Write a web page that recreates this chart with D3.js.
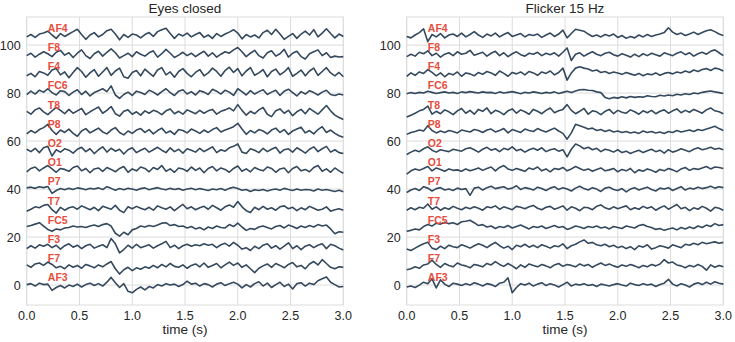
<!DOCTYPE html>
<html>
<head>
<meta charset="utf-8">
<script src="https://cdn.jsdelivr.net/npm/d3@7"></script>
<style>
  body { margin: 0; background: #fff; }
  text { font-family: "Liberation Sans", Arial, sans-serif; }
</style>
</head>
<body>
<svg id="chart" width="735" height="342"></svg>
<script>
// channel order, bottom to top; each trace is drawn at index * spacing
const channels = ["AF3", "F7", "F3", "FC5", "T7", "P7", "O1", "O2", "P8", "T8", "FC6", "F4", "F8", "AF4"];
const spacing = 8;
const duration = 3.0;
const xTicks = [0, 0.5, 1, 1.5, 2, 2.5, 3];
const yTicks = [0, 20, 40, 60, 80, 100];
const titles = ["Eyes closed", "Flicker 15 Hz"];

// samples every 0.04 s (76 per trace)
const eyesClosed = {
  AF4: [-0.6,0.4,-0.8,0.6,1.0,1.8,0.2,-1.2,0.8,-0.4, 0.6,1.6,2.6,0.4,-1.6,0.2,1.2,-0.6,0.4,2.0, 2.6,0.6,-1.8,0.4,-0.8,0.6,0.2,-1.0,0.4,1.2, -0.4,1.6,2.4,3.0,0.8,-1.2,0.6,-0.2,1.0,-0.6, 0.4,1.2,-0.8,0.2,-1.2,0.8,-0.4,0.6,1.4,2.4, 1.0,-1.4,0.4,-0.6,0.2,-1.0,1.2,2.2,0.4,2.6, 0.6,-1.6,-0.4,0.8,-1.2,0.6,1.8,0.2,2.4,-0.6, 1.0,2.8,0.8,-1.0,0.6,-0.4],
  F8: [-0.4,0.6,-1.0,0.2,1.2,0.4,-0.8,1.0,1.8,-0.2, 0.8,-1.2,0.6,2.0,-0.4,-1.6,0.4,1.4,-0.6,1.0, 2.4,0.8,-1.4,-0.4,0.6,-0.8,1.2,0.2,-0.6,0.8, 1.6,-1.0,0.4,2.2,0.6,-1.2,-0.2,1.0,-0.4,0.6, -0.8,0.4,1.4,-0.6,0.8,-1.0,0.2,1.2,0.6,2.0, 3.0,1.2,-0.8,0.6,1.8,-0.4,-1.4,0.8,1.6,-0.6, 0.4,2.2,-1.0,0.6,1.4,-0.8,-1.8,0.4,1.2,2.0, -0.4,0.8,-1.2,-0.6,-1.0,-0.8],
  F4: [-0.8,0.2,-1.2,1.0,0.4,-0.6,1.6,2.2,-0.4,0.8, -1.6,0.6,2.6,1.0,-1.4,0.4,1.8,-1.0,0.8,2.6, -0.6,1.2,2.4,-1.2,-1.8,0.6,1.4,-0.8,2.0,0.4, -1.0,1.6,2.6,-0.4,0.8,-1.4,1.0,2.2,0.2,-1.2, 0.6,1.8,-0.8,0.4,2.4,1.0,-1.0,1.4,2.8,0.6, 2.2,-0.8,1.2,2.6,-0.6,0.4,1.8,-1.2,1.0,2.0, -0.4,0.8,2.6,-1.0,0.2,1.6,-0.8,1.2,2.4,-0.6, 1.0,2.6,0.4,-0.8,0.6,-1.2],
  FC6: [-0.6,0.8,-0.4,1.2,0.4,1.8,0.2,-0.8,1.0,0.6, -1.0,0.4,1.4,-0.6,0.8,-1.2,0.2,1.0,1.8,0.6, 3.0,-0.8,-2.2,-0.6,0.4,-1.0,0.8,0.2,-0.6,1.2, 0.4,-0.8,0.6,1.8,0.2,-1.0,0.8,1.4,-0.4,0.6, -0.8,1.0,0.4,-0.6,1.6,0.8,-0.4,1.2,0.4,-1.0, 1.8,0.6,-0.8,1.0,-0.4,0.6,1.4,-0.6,0.4,1.2, -1.0,0.8,1.6,0.2,-1.2,0.6,-0.4,1.0,0.2,-0.8, 0.4,1.2,-0.6,-1.0,-0.4,-0.8],
  T8: [0.4,-0.8,1.0,1.8,0.2,-1.0,0.6,2.0,0.8,-0.6, 1.2,-0.4,0.6,1.6,-1.0,0.2,1.2,2.2,-0.4,0.8, 2.4,-0.6,-1.6,0.4,1.0,-0.8,0.2,-1.2,0.6,-0.4, 0.8,0.2,-1.0,0.6,1.4,-0.6,0.4,-0.8,1.0,0.2, -0.6,0.8,-0.4,0.6,1.2,-0.8,0.4,1.0,1.8,0.6, 3.2,0.8,-1.2,0.4,-0.6,1.0,2.0,-0.8,-1.8,0.6, 1.4,-0.4,0.8,-1.4,0.2,1.2,-0.6,1.6,0.4,-0.8, 1.0,2.8,0.6,-1.2,-2.2,-3.0],
  P8: [-1.0,0.4,-0.6,0.8,1.6,3.0,0.4,-1.2,0.6,-0.4, 1.0,-0.8,-2.0,0.2,1.2,-0.6,0.4,1.4,-0.2,-1.0, 0.6,1.6,-0.4,-1.4,0.2,-0.8,0.6,1.2,-0.4,0.8, -1.0,0.4,1.4,-0.6,0.2,-1.2,0.8,0.4,-0.6,1.0, 0.2,-0.8,0.6,-0.4,0.8,1.6,-0.2,0.6,1.2,2.0, 3.4,1.0,-1.2,0.4,-0.6,0.8,0.2,-1.0,0.6,1.4, -0.4,0.8,-1.2,0.2,1.0,1.8,-0.6,0.4,-1.0,0.8, 2.0,-0.4,0.6,-0.8,-1.8,-2.4],
  O2: [0.6,-0.4,1.0,-0.8,1.2,1.8,-2.2,0.4,-0.6,0.8, 0.2,-1.0,0.6,1.4,-0.4,0.8,-1.2,0.4,1.6,-0.6, 1.0,-0.2,0.6,-1.4,0.4,1.2,-0.8,0.2,1.0,-0.6, 0.4,1.4,0.2,-0.8,1.2,-0.4,0.6,-1.0,0.8,0.2, -0.6,1.0,-0.4,0.6,1.6,-0.8,0.4,-0.2,1.2,1.8, 2.8,-0.6,-1.2,0.8,0.2,-0.8,1.0,-0.4,0.6,1.4, -1.0,0.4,0.8,-0.6,1.2,0.2,-1.0,0.6,1.6,-0.4, 0.8,1.8,-0.6,0.4,-0.8,-1.2],
  O1: [-0.8,0.6,1.2,-0.4,0.8,1.8,0.4,-1.0,0.6,0.2, -0.6,1.0,1.6,-0.4,0.6,-1.2,0.4,0.8,-0.6,1.0, 0.2,-0.8,0.6,1.4,-1.0,0.4,-0.4,1.2,0.6,-0.8, 1.0,0.2,1.8,-0.6,0.4,-1.0,0.8,0.4,-0.6,1.2, -0.2,0.8,-1.2,0.6,1.4,-0.4,0.8,0.2,-1.0,0.6, 1.6,-0.6,0.4,-0.8,1.0,0.2,-0.4,1.2,0.6,-1.0, 0.4,0.8,-1.2,0.6,1.4,-0.4,0.2,-0.8,1.0,1.8, -0.6,0.4,-1.0,0.8,-0.4,-1.4],
  P7: [0.5,0.8,0.3,1.0,0.6,1.1,-1.8,-0.6,0.2,-0.3, 0.3,-0.2,0.5,0.2,-0.3,0.3,0.0,0.5,-0.2,1.0, 0.3,-0.5,0.2,-0.3,0.3,0.0,-0.5,0.2,0.5,-0.3, 0.2,0.6,0.0,-0.3,0.3,-0.2,0.2,-0.5,0.0,0.3, -0.3,0.2,-0.2,-0.6,0.0,-0.3,0.2,-0.5,0.3,0.8, 0.2,-0.5,-0.2,-1.0,-0.3,-0.6,-0.2,-0.8,-0.3,0.0, -0.5,0.3,-0.2,-0.6,0.0,-0.5,-0.2,-0.3,-0.8,0.0, -0.5,-0.2,-0.6,-1.0,-0.5,-1.1],
  T7: [-1.2,-0.4,0.6,0.2,1.2,1.6,-0.6,-2.0,0.4,-0.8, 0.2,0.6,-0.4,1.0,0.2,-0.6,0.4,-1.0,0.8,0.2, -0.4,1.2,-0.8,-1.8,0.6,-0.2,0.8,0.0,-0.6,0.4, -0.8,1.0,0.2,-0.4,0.6,-1.0,0.4,1.6,-0.2,0.6, -0.6,0.2,0.8,-0.4,1.2,0.2,-0.8,0.6,1.4,0.4, 2.8,0.6,-1.0,-1.8,0.4,-0.6,0.8,-0.4,0.2,-0.8, 0.6,1.0,-0.2,0.4,-1.0,0.2,-0.6,0.8,0.0,-0.8, -0.4,0.6,-1.2,-0.6,-0.2,-0.8],
  FC5: [0.4,0.8,1.4,2.0,0.6,-0.8,-1.6,-0.6,-1.0,-0.2, 0.0,0.6,0.2,0.4,0.0,0.6,1.0,0.4,1.2,1.6, 0.6,-2.4,-3.6,-2.0,-3.0,-1.0,-0.4,0.6,0.2,0.8, 0.4,1.0,1.8,2.0,0.8,1.2,0.4,0.6,-0.2,0.4, -0.6,0.0,-1.0,0.2,-0.4,0.6,0.0,-0.2,1.2,0.4, 1.8,0.2,-1.2,-0.4,-0.8,0.2,0.6,0.0,-0.6,0.4, 0.8,-0.2,1.0,0.4,-0.4,0.6,0.0,0.8,0.2,1.2, 0.6,1.0,-0.6,-2.6,-1.8,-2.0],
  F3: [-0.8,0.4,-0.6,0.8,0.2,1.0,-0.4,0.6,-1.0,0.4, 1.2,-0.2,0.6,-0.8,0.4,1.0,-0.6,0.2,0.8,-0.4, 3.4,1.2,-2.6,-1.2,0.6,-0.6,1.0,-0.4,0.2,0.8, -0.6,0.4,1.2,2.2,-0.4,0.6,-0.8,0.4,1.0,0.2, 0.8,0.4,1.2,0.6,1.0,-0.4,0.8,1.4,0.2,1.8, 0.6,-1.0,-0.4,-1.6,0.2,-0.8,0.6,1.2,-0.6,0.4, -1.0,0.2,1.6,-0.8,0.4,-1.2,0.2,0.8,-0.4,0.6, 1.2,-0.8,1.0,0.4,-0.6,-1.4],
  F7: [0.4,-0.6,0.8,1.2,0.2,1.6,0.6,-0.8,-0.2,-1.2, 0.4,-0.6,0.2,-1.0,0.6,0.0,-0.8,0.4,-0.4,0.8, 1.8,-1.2,-3.4,-1.6,-0.6,-2.0,-0.8,-1.4,-0.4,-1.0, 0.2,-0.8,0.6,-0.4,1.0,-0.2,-0.6,0.4,-1.0,0.2, 0.8,-0.4,1.2,-0.6,0.2,1.0,-0.8,0.4,1.6,0.2, 1.2,-0.6,0.4,-1.2,-2.8,-1.0,0.0,0.8,-0.6,1.0, 0.2,-0.8,0.6,1.4,-0.4,0.2,-1.2,0.8,1.8,0.4, 2.6,1.0,-0.6,-1.2,-0.4,-0.6],
  AF3: [0.2,0.6,-0.4,0.8,0.2,0.4,-2.2,-1.0,-0.2,-1.2, 0.0,-0.6,0.4,-0.8,0.2,0.8,-0.2,0.6,-0.4,1.2, 3.2,1.0,-1.0,0.6,-2.6,-3.2,-1.8,-0.8,-2.0,-0.6, -1.2,0.2,-0.4,0.6,0.0,0.4,-0.6,0.2,1.6,0.4, 0.8,-0.4,0.6,0.2,-0.8,0.4,1.0,-0.2,0.6,1.2, 0.4,-1.2,0.2,-0.8,0.6,1.4,-0.4,0.8,-1.0,0.2, 1.2,-0.6,0.4,-1.6,0.6,1.0,-0.4,0.8,0.2,1.8, 2.6,3.4,1.2,0.2,-0.8,-0.6]
};

const flicker15 = {
  AF4: [-0.4,-1.0,0.2,1.2,2.8,-2.6,0.4,-0.6,0.8,-1.0, 0.2,0.6,-0.4,1.0,-0.6,0.4,1.6,0.2,-0.8,0.6, -0.2,1.0,-0.6,0.4,1.2,-0.4,0.2,0.8,-0.6,0.4, 0.0,0.6,-0.8,0.2,1.0,-0.4,0.6,2.2,-1.0,0.8, 2.6,2.2,1.8,0.6,-0.4,0.2,-0.6,0.4,-0.2,0.6, -0.8,0.0,-1.2,-0.4,-1.0,0.2,-0.6,0.4,-0.4,0.2, 0.6,1.2,3.2,1.4,0.4,1.0,0.0,0.6,1.4,0.4, 1.2,2.0,2.4,1.6,0.6,0.0],
  F8: [-0.8,0.2,-0.6,1.0,0.4,1.6,-0.4,0.6,-1.0,0.2, 0.8,-0.4,1.2,0.2,0.6,1.8,-0.2,0.4,1.0,-0.6, 0.6,1.4,-0.4,0.8,-0.8,0.4,1.2,0.0,-0.6,0.6, 0.2,1.0,-0.4,0.6,0.0,0.8,-0.6,1.0,2.8,-2.4, 0.2,0.8,-0.6,0.4,1.2,0.2,-0.4,0.6,1.0,0.0, -0.6,0.4,-0.2,-1.0,0.2,-0.8,0.4,-0.4,0.6,0.0, -0.6,0.8,0.2,-0.4,0.6,1.2,0.0,0.8,-0.6,0.4, 1.0,0.2,1.4,2.0,0.8,-0.4],
  F4: [-1.0,0.4,-0.6,0.8,0.2,1.8,0.6,-0.8,0.4,-1.2, 0.2,-0.4,0.8,-1.0,0.4,0.0,-0.8,0.6,-0.2,1.0, 0.4,-0.6,1.2,0.2,-1.0,0.6,0.0,0.8,-0.4,1.0, 0.4,-0.6,0.8,0.2,1.2,-0.4,0.6,2.4,-2.6,0.4, 2.4,3.0,2.4,2.0,1.2,1.6,0.6,1.0,0.2,0.8, 0.4,-0.2,0.6,0.0,-0.6,0.2,-0.8,0.0,-0.4,0.4, -0.6,0.2,0.6,0.0,0.8,0.4,1.2,0.6,1.6,1.0, 1.8,2.2,1.4,2.4,2.0,1.2],
  FC6: [-0.3,0.2,-0.2,0.3,0.0,0.8,0.3,-0.2,0.2,0.5, 0.0,0.3,-0.2,0.5,0.2,0.6,0.3,0.0,0.5,0.2, 0.3,-0.2,0.5,0.0,0.3,0.6,0.2,-0.3,0.3,0.0, 0.5,0.2,-0.2,0.3,0.0,0.5,-0.2,0.3,0.8,0.2, 0.9,1.4,1.5,1.2,1.1,0.5,0.2,-1.8,-2.4,-1.8, -2.1,-1.5,-2.0,-1.4,-1.8,-1.5,-1.7,-1.1,-1.4,-1.5, -0.9,-1.2,-0.8,-1.1,-0.5,-0.8,-0.3,-0.6,0.0,-0.3, 0.3,0.6,0.9,0.5,0.2,-0.2],
  T8: [-2.0,-1.2,-0.4,0.6,1.2,2.6,-0.8,0.4,-0.6,1.0, 0.2,-1.0,0.6,1.6,-0.4,0.8,-0.8,1.2,0.4,1.8, -0.6,0.8,0.2,-1.0,0.6,1.4,-0.4,1.0,0.2,-0.8, 1.2,0.4,-0.6,0.8,1.8,-0.2,0.6,1.2,3.2,0.8, -0.6,0.4,1.6,-0.8,0.6,0.2,-1.0,0.4,1.2,-0.6, 0.8,0.0,-0.4,1.0,0.2,-0.8,0.6,-0.2,0.8,-0.6, 0.4,1.0,-0.4,0.6,1.4,-0.2,0.8,0.0,1.2,0.4, -0.4,1.0,1.8,0.6,0.2,-0.6],
  P8: [-1.2,-0.4,0.0,0.6,0.2,2.4,0.4,-0.6,0.2,-0.4, 0.4,0.0,-0.6,0.6,0.2,-0.2,0.8,0.4,-0.4,0.6, 1.0,-0.2,0.4,1.2,-0.6,0.8,0.2,-0.4,1.0,0.4, 0.0,1.2,0.4,-0.2,0.6,1.4,0.2,-0.8,-3.2,-0.6, 3.0,2.4,1.8,1.0,1.4,0.4,0.8,0.0,0.6,-0.2, 0.2,-0.4,0.0,-0.6,-0.2,-0.8,0.2,-0.4,0.0,-0.6, -0.2,-0.8,0.0,-0.4,0.4,-0.2,0.2,0.6,0.0,0.8, 0.4,1.0,1.6,2.2,1.2,0.4],
  O2: [-1.6,-0.6,0.2,-0.4,0.8,1.6,0.2,-0.6,0.4,0.0, -0.4,0.6,0.2,-0.2,0.8,1.2,0.4,-0.6,0.6,1.4, 0.2,0.8,-0.4,1.0,0.4,1.6,0.0,0.6,-0.6,0.4, 1.0,0.2,1.2,-0.4,0.4,0.8,-0.2,0.4,-2.6,0.6, 2.8,2.0,0.8,1.4,0.4,1.0,-0.4,0.6,0.2,-0.6, 0.4,-0.8,-0.2,-1.2,-0.4,0.2,-0.8,0.0,0.6,-0.4, 0.2,-1.0,0.4,-0.6,0.0,0.8,0.2,-0.4,0.6,1.2, 0.4,0.8,1.4,0.6,1.0,0.4],
  O1: [-1.8,-0.4,0.4,-0.2,0.6,1.4,-0.4,0.8,0.2,-0.6, 0.4,-0.2,0.0,-0.6,0.4,-0.4,0.2,0.8,-0.2,0.6, 1.2,-0.4,1.0,1.8,0.4,-0.2,0.6,0.0,-0.6,0.8, 0.2,1.2,-0.4,0.4,-0.8,0.6,0.2,1.0,-0.4,0.4, 1.4,0.6,-0.2,0.4,-0.6,0.2,0.8,-0.4,0.0,0.6, -0.8,0.2,-0.4,0.6,-1.2,0.0,-0.6,0.4,-0.2,-1.0, 0.2,-0.4,0.6,0.0,-0.8,0.4,1.0,-0.2,0.6,0.2, 0.8,1.4,0.4,1.2,1.0,0.6],
  P7: [-1.4,-0.4,0.2,-0.6,1.0,0.4,-0.8,0.2,0.6,-0.4, 0.0,-0.6,0.4,-0.2,0.2,-2.6,0.4,0.8,-0.4,0.6, 1.2,0.2,0.6,1.0,0.0,0.4,1.4,-0.2,0.6,0.2, -0.4,0.8,0.2,-0.6,0.4,1.0,-0.2,0.6,0.0,-0.8, 0.4,1.2,0.2,-0.4,0.6,0.0,-1.0,0.4,0.8,-0.2, -0.6,0.2,-1.2,0.0,0.6,-0.4,0.2,0.8,-0.2,-0.8, 0.4,0.0,0.6,-0.6,0.2,1.0,-0.4,0.4,0.0,0.8, 0.2,0.6,1.2,0.4,1.0,0.6],
  T7: [-0.8,0.2,-0.6,0.4,0.0,1.8,-0.4,0.6,-0.8,0.2, -0.4,0.8,0.0,-0.6,0.4,-0.2,0.6,0.0,-0.8,0.6, 0.2,1.0,-0.4,0.6,0.0,-0.6,0.8,0.4,-0.2,0.6, 1.2,0.0,-0.6,0.4,0.8,-0.4,0.2,1.0,-0.8,0.6, 0.0,-1.0,0.4,0.2,-0.6,0.8,1.4,0.2,-0.4,0.6, -0.2,0.4,1.0,-0.6,0.2,-0.4,0.8,0.0,0.6,-0.8, 0.2,1.0,-0.4,0.6,1.6,-0.2,0.4,-1.0,0.2,-0.4, 0.8,0.0,-1.2,0.4,0.0,-0.8],
  FC5: [-1.6,-1.2,-0.6,-1.0,0.4,1.2,0.6,1.8,1.4,2.2, 1.6,2.0,1.2,2.4,2.6,3.0,2.0,0.8,1.2,0.2, 0.6,-0.4,0.4,0.0,0.8,-0.2,0.4,1.0,0.2,-0.6, 0.4,0.0,0.6,-0.4,0.2,0.8,0.0,0.4,-0.8,-0.2, 0.6,0.2,-0.4,0.4,0.0,0.6,-0.2,0.2,-0.6,0.4, 0.0,-0.4,0.6,0.2,-0.2,0.8,1.2,0.4,0.0,-0.8, -0.4,-1.2,-0.6,-0.2,-1.0,0.0,-0.6,0.2,-0.4,0.6, 0.0,1.0,0.4,1.6,0.8,1.2],
  F3: [-1.0,-1.6,-0.6,0.4,1.2,1.8,-0.6,-1.2,0.2,-0.8, 0.6,0.0,-0.4,0.8,0.2,-0.6,0.4,1.2,0.6,-0.4, 0.8,1.8,0.4,-0.6,0.2,-1.2,0.6,0.0,1.0,-0.2, 0.6,-0.4,0.8,0.2,-0.6,0.4,0.0,1.2,-0.8,0.4, 1.0,2.0,2.8,1.4,1.8,0.8,0.4,1.0,0.0,0.6, -0.4,0.2,-0.8,0.0,-1.2,0.4,-0.2,0.8,-1.0,-0.4, 0.4,0.0,-0.6,0.8,0.2,-0.4,1.0,0.6,1.4,0.8, 1.8,1.2,1.6,2.0,1.4,1.8],
  F7: [-1.6,-1.2,-0.4,-1.0,0.4,0.8,2.4,0.6,-0.6,1.0, 0.2,-0.4,1.2,0.4,0.0,-0.8,0.6,0.2,-0.4,1.0, 0.4,1.8,0.6,-0.2,1.0,0.0,-1.2,0.4,-0.6,0.8, 0.2,-0.4,0.6,0.0,-0.8,0.4,1.0,-0.2,0.6,0.2, -0.4,0.8,0.0,0.6,-0.6,0.4,1.2,0.2,0.8,0.0, -0.6,0.4,-0.2,0.6,0.0,-0.8,0.2,-0.4,0.6,0.0, 0.8,2.6,1.2,1.6,0.4,0.0,-0.8,0.2,-0.4,0.6, -0.2,-1.8,0.4,-0.6,0.2,-0.4],
  AF3: [-0.8,-0.4,-1.0,0.0,1.2,0.6,2.6,-1.2,2.2,0.4, -0.6,0.8,0.4,-0.2,0.6,0.0,1.0,0.4,-0.4,0.6, 0.2,-0.6,0.8,1.2,3.0,-3.2,-1.0,0.6,0.0,0.8, -0.4,0.4,1.0,-0.2,0.6,0.0,-0.8,0.2,1.2,-0.4, 0.4,0.0,0.6,-0.2,0.2,-0.6,0.4,0.0,-0.4,0.2, 0.6,0.0,-0.4,0.8,0.2,-0.2,0.6,0.0,0.4,-0.6, 0.2,0.8,2.4,0.4,-0.4,0.6,0.0,-0.8,0.4,1.0, 0.2,1.2,0.4,1.4,0.8,0.4]
};

const conditions = [eyesClosed, flicker15];

const svg = d3.select("#chart");
const lineColor = "#34495e";
const labelColor = "#e74c3c";
const gridColor = "#dcdcdc";
const textColor = "#262626";

const panelLeft = [26.7, 406.7];
const panelWidth = 316.6;
const plotTop = 17, plotBottom = 305;

const y = d3.scaleLinear().domain([-8.3, 111.7]).range([plotBottom, plotTop]);

conditions.forEach((data, p) => {
  const x = d3.scaleLinear().domain([0, duration]).range([panelLeft[p], panelLeft[p] + panelWidth]);
  const g = svg.append("g");

  // grid
  g.append("g")
    .selectAll("line")
    .data(xTicks)
    .join("line")
    .attr("x1", d => x(d)).attr("x2", d => x(d))
    .attr("y1", plotTop).attr("y2", plotBottom)
    .attr("stroke", gridColor).attr("stroke-width", 1);
  g.append("g")
    .selectAll("line")
    .data(yTicks)
    .join("line")
    .attr("x1", x(0)).attr("x2", x(duration))
    .attr("y1", d => y(d)).attr("y2", d => y(d))
    .attr("stroke", gridColor).attr("stroke-width", 1);

  // frame
  g.append("rect")
    .attr("x", x(0)).attr("y", plotTop)
    .attr("width", x(duration) - x(0)).attr("height", plotBottom - plotTop)
    .attr("fill", "none").attr("stroke", gridColor).attr("stroke-width", 1);

  // traces
  const line = d3.line()
    .x((d, i) => x(i * duration / (data.AF3.length - 1)))
    .y(d => y(d));

  g.append("g")
    .selectAll("path")
    .data(channels)
    .join("path")
    .attr("d", (ch, k) => line(data[ch].map(v => v + k * spacing)))
    .attr("fill", "none")
    .attr("stroke", lineColor)
    .attr("stroke-width", 1.6)
    .attr("stroke-linejoin", "round");

  // channel labels
  g.append("g")
    .selectAll("text")
    .data(channels)
    .join("text")
    .attr("x", x(0.2))
    .attr("y", (ch, k) => y(k * spacing + 1.5))
    .attr("fill", labelColor)
    .attr("font-size", 10.5)
    .attr("font-weight", "bold")
    .text(d => d);

  // tick labels
  g.append("g")
    .selectAll("text")
    .data(xTicks)
    .join("text")
    .attr("x", d => x(d))
    .attr("y", 320)
    .attr("text-anchor", "middle")
    .attr("font-size", 12.5)
    .attr("fill", textColor)
    .text(d => d3.format(".1f")(d));
  g.append("g")
    .selectAll("text")
    .data(yTicks)
    .join("text")
    .attr("x", x(0) - 6)
    .attr("y", d => y(d) + 4.5)
    .attr("text-anchor", "end")
    .attr("font-size", 12.5)
    .attr("fill", textColor)
    .text(d => d);

  // titles
  g.append("text")
    .attr("x", x(duration / 2))
    .attr("y", 13)
    .attr("text-anchor", "middle")
    .attr("font-size", 13.5)
    .attr("fill", textColor)
    .text(titles[p]);
  g.append("text")
    .attr("x", x(duration / 2))
    .attr("y", 334)
    .attr("text-anchor", "middle")
    .attr("font-size", 13.5)
    .attr("fill", textColor)
    .text("time (s)");
});
</script>
</body>
</html>
